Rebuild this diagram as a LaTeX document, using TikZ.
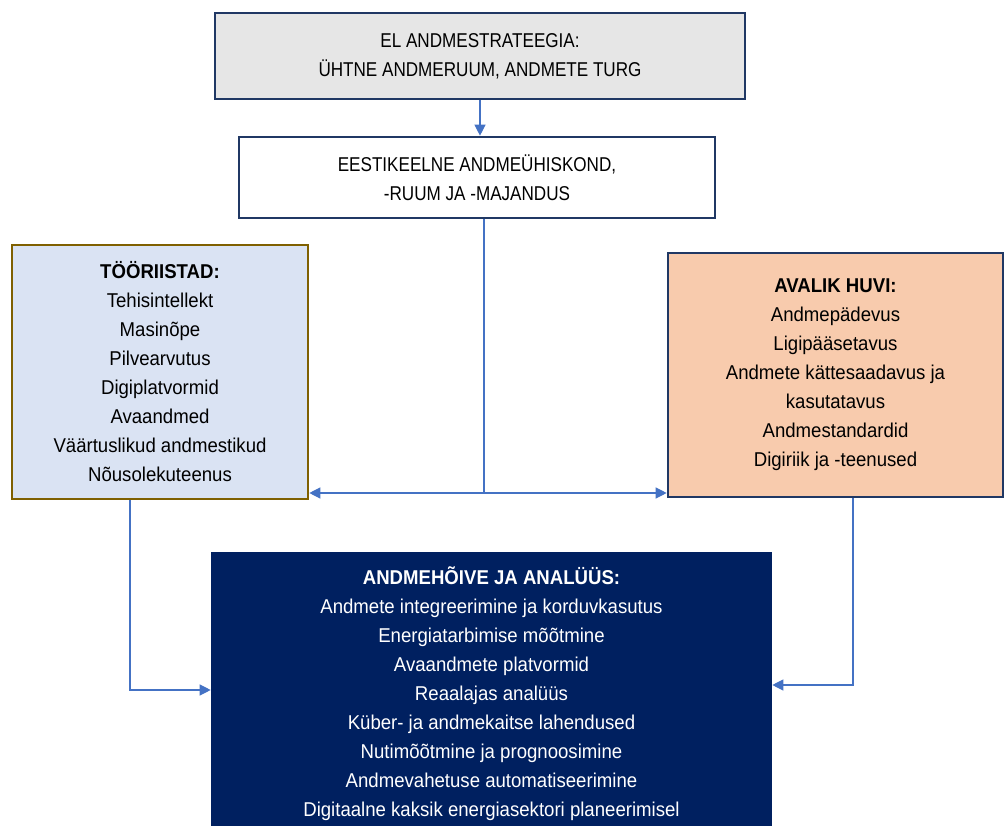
\documentclass[tikz,border=0pt]{standalone}
\usepackage{fontspec}
\setmainfont{Liberation Sans}[FakeStretch=0.93]
\newfontfamily\capsfont{Liberation Sans}[FakeStretch=0.855]
\usetikzlibrary{arrows.meta}
\definecolor{navyline}{HTML}{203864}
\definecolor{greyfill}{HTML}{E6E6E6}
\definecolor{toolfill}{HTML}{DAE3F3}
\definecolor{toolline}{HTML}{7F6000}
\definecolor{publfill}{HTML}{F8CBAD}
\definecolor{analfill}{HTML}{002060}
\definecolor{connblue}{HTML}{4472C4}
\tikzset{
  box/.style={draw=navyline, line width=2.6pt, align=center, inner sep=0pt,
    font=\fontsize{20}{29}\selectfont},
  conn/.style={draw=connblue, line width=1.2pt},
  tip/.style={-{Triangle[length=11pt,width=11pt]}},
}
\begin{document}
\begin{tikzpicture}[x=1pt,y=-1pt]
\useasboundingbox (0,0) rectangle (1005,826);
\clip (0,0) rectangle (1005,826);
\node[box, fill=greyfill, minimum width=530pt, minimum height=86pt] (strat) at (480,56)
  {\capsfont EL ANDMESTRATEEGIA:\\\capsfont ÜHTNE ANDMERUUM, ANDMETE TURG};
\node[box, fill=white, minimum width=476pt, minimum height=81pt] (ekeel) at (477,177.5)
  {\capsfont EESTIKEELNE ANDMEÜHISKOND,\\\capsfont -RUUM JA -MAJANDUS};
\node[box, draw=toolline, fill=toolfill, minimum width=296pt, minimum height=254pt] (tools) at (160,372)
  {\textbf{TÖÖRIISTAD:}\\Tehisintellekt\\Masinõpe\\Pilvearvutus\\Digiplatvormid\\Avaandmed\\Väärtuslikud andmestikud\\Nõusolekuteenus};
\node[box, fill=publfill, minimum width=335pt, minimum height=244pt] (huvi) at (835.5,375)
  {\textbf{AVALIK HUVI:}\\Andmepädevus\\Ligipääsetavus\\Andmete kättesaadavus ja\\kasutatavus\\Andmestandardid\\Digiriik ja -teenused};
\node[box, draw=analfill, fill=analfill, text=white, minimum width=559pt, inner ysep=13pt, anchor=north] (anal) at (491.5,552)
  {\textbf{ANDMEHÕIVE JA ANALÜÜS:}\\Andmete integreerimine ja korduvkasutus\\Energiatarbimise mõõtmine\\Avaandmete platvormid\\Reaalajas analüüs\\Küber- ja andmekaitse lahendused\\Nutimõõtmine ja prognoosimine\\Andmevahetuse automatiseerimine\\Digitaalne kaksik energiasektori planeerimisel\\ };
% turning points of the connectors
\coordinate (fork) at (484,493);
\coordinate (lturn) at (130,690);
\coordinate (rturn) at (853,685);
\draw[conn, tip] (strat.south) -- (strat.south |- ekeel.north);
\draw[conn] (ekeel.south -| fork) -- (fork);
\draw[conn, tip] (fork) -- (fork -| tools.east);
\draw[conn, tip] (fork) -- (fork -| huvi.west);
\draw[conn, tip] (tools.south -| lturn) -- (lturn) -- (lturn -| anal.west);
\draw[conn, tip] (huvi.south -| rturn) -- (rturn) -- (rturn -| anal.east);
\end{tikzpicture}
\end{document}
